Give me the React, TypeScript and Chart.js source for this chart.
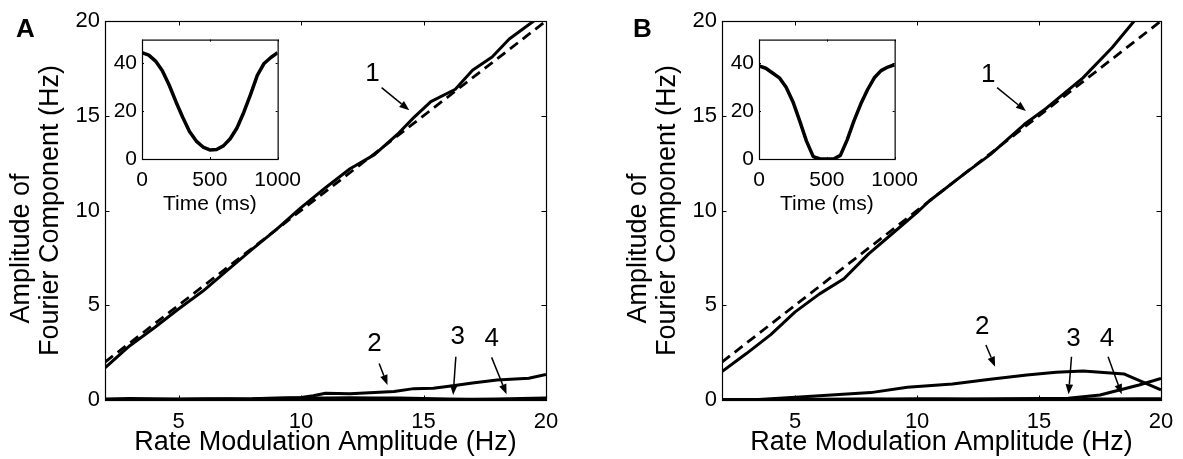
import React, { useEffect, useRef } from 'react';
import { Chart, registerables } from 'chart.js';

Chart.register(...registerables);

const FONT = '"Liberation Sans", Arial, Helvetica, sans-serif';
Chart.defaults.font.family = FONT;
Chart.defaults.color = '#000';

// ---------- Axis ticks / titles ----------
const mainXTicks = [5, 10, 15, 20];
const mainXTickLabels = ['5', '10', '15', '20'];
const mainYTicks = [0, 5, 10, 15, 20];
const mainYTickLabels = ['0', '5', '10', '15', '20'];
const insetXTicks = [0, 500, 1000];
const insetXTickLabels = ['0', '500', '1000'];
const insetYTicks = [0, 20, 40];
const insetYTickLabels = ['0', '20', '40'];
const mainXTitle = 'Rate Modulation Amplitude (Hz)';
const mainYTitle = ['Amplitude of', 'Fourier Component (Hz)'];
const insetXTitle = 'Time (ms)';

// ---------- Panel A ----------
const aX1 = [2, 3, 4, 5, 6, 7, 8, 9, 10, 11, 12, 13, 14, 14.6, 15.3, 16.3, 17, 17.8, 18.5, 19.5, 20];
const aY1 = [1.7, 2.85, 3.8, 4.8, 5.75, 6.85, 7.95, 9.0, 10.15, 11.2, 12.2, 12.95, 14.1, 14.9, 15.75, 16.4, 17.4, 18.1, 19.05, 20.0, 20.4];
const refX = [2, 20];
const refY = [2, 20];
const aX2 = [2, 4, 6, 8, 9, 10, 10.5, 11, 12, 13, 13.8, 14.6, 15.4, 16.2, 17, 18, 19.3, 20];
const aY2 = [0.02, 0.03, 0.04, 0.06, 0.1, 0.13, 0.22, 0.36, 0.33, 0.4, 0.45, 0.6, 0.62, 0.75, 0.9, 1.05, 1.15, 1.35];
const lowX = [2, 3, 4, 5, 6, 7, 8, 9, 10, 11, 12, 13, 14, 15, 16, 17, 18, 19, 20];
const aY3 = [0.05, 0.08, 0.06, 0.05, 0.07, 0.06, 0.05, 0.08, 0.1, 0.1, 0.12, 0.1, 0.1, 0.08, 0.05, 0.04, 0.05, 0.08, 0.1];
const aY4 = [0.02, 0.03, 0.02, 0.03, 0.02, 0.03, 0.02, 0.03, 0.03, 0.04, 0.03, 0.02, 0.03, 0.03, 0.02, 0.02, 0.03, 0.03, 0.03];

// ---------- Panel B ----------
const bX1 = [2, 3, 4, 5, 6, 7, 8, 9, 10, 10.5, 12, 13, 14.4, 15.3, 16.8, 18, 18.9, 19.3];
const bY1 = [1.5, 2.45, 3.45, 4.65, 5.6, 6.4, 7.7, 8.8, 9.9, 10.5, 12.0, 12.95, 14.55, 15.4, 17.0, 18.6, 20.0, 20.6];
const bX2 = [2, 3.5, 5.35, 8.1, 9.6, 11.45, 13, 14.5, 15.7, 16.8, 18.5, 20];
const bY2 = [0.0, 0.03, 0.17, 0.39, 0.67, 0.84, 1.09, 1.32, 1.46, 1.53, 1.37, 0.53];
const bY3 = [0.02, 0.03, 0.03, 0.04, 0.03, 0.04, 0.05, 0.04, 0.05, 0.05, 0.04, 0.04, 0.05, 0.05, 0.04, 0.05, 0.05, 0.06, 0.06];
const bX4 = [2, 4, 6, 8, 10, 12, 14, 16.2, 17.5, 18.3, 19.1, 20];
const bY4 = [0.03, 0.03, 0.04, 0.04, 0.05, 0.05, 0.06, 0.09, 0.26, 0.53, 0.79, 1.14];

// ---------- Insets (rate profile) ----------
const insetT = [0, 50, 100, 150, 200, 250, 300, 350, 400, 450, 500, 550, 600, 650, 700, 750, 800, 850, 900, 950, 1000];
const insetA = [44.5, 43.5, 41, 37, 31, 24, 17.5, 11.5, 7.5, 5, 3.8, 4, 5.5, 8.5, 13, 19.5, 27, 35, 40, 42.5, 44.5];
const insetB = [39, 38, 36, 34, 30, 24, 16, 7.5, 1, 0, 0, 0, 1.5, 8, 16, 23, 29, 34, 37, 38.5, 39.5];

// ---------- Annotations (data units) ----------
const annA = [
  { t: '1', lx: 12.92, ly: 17.2, x0: 13.29, y0: 16.48, x1: 14.42, y1: 15.29 },
  { t: '2', lx: 13.0, ly: 2.95, x0: 13.19, y0: 1.93, x1: 13.53, y1: 0.79 },
  { t: '3', lx: 16.4, ly: 3.34, x0: 16.32, y0: 2.28, x1: 16.21, y1: 0.26 },
  { t: '4', lx: 17.78, ly: 3.25, x0: 17.78, y0: 2.25, x1: 18.39, y1: 0.3 },
];
const annB = [
  { t: '1', lx: 12.92, ly: 17.18, x0: 13.28, y0: 16.48, x1: 14.46, y1: 15.25 },
  { t: '2', lx: 12.67, ly: 3.87, x0: 12.82, y0: 2.9, x1: 13.2, y1: 1.76 },
  { t: '3', lx: 16.41, ly: 3.25, x0: 16.33, y0: 2.28, x1: 16.21, y1: 0.3 },
  { t: '4', lx: 17.78, ly: 3.25, x0: 17.83, y0: 2.28, x1: 18.39, y1: 0.3 },
];

const zip = (xs: number[], ys: number[]) => xs.map((x, i) => ({ x, y: ys[i] }));

function framePlugin(tickLen: number, ann: any[], letter: string | null, whiteBg: boolean, yTitle: string[] | null) {
  return {
    id: 'frame',
    beforeDatasetsDraw(chart: any) {
      if (!whiteBg) return;
      const { ctx, chartArea: a } = chart;
      ctx.save();
      ctx.fillStyle = '#fff';
      ctx.fillRect(a.left, a.top, a.right - a.left, a.bottom - a.top);
      ctx.restore();
    },
    afterDatasetsDraw(chart: any) {
      const { ctx, chartArea: a, scales } = chart;
      ctx.save();
      ctx.strokeStyle = '#000';
      ctx.lineWidth = 1.2;
      ctx.strokeRect(a.left + 0.5, a.top + 0.5, a.right - a.left, a.bottom - a.top);
      ctx.lineWidth = 1;
      ctx.beginPath();
      scales.x.ticks.forEach((t: any) => {
        const p = Math.round(scales.x.getPixelForValue(t.value)) + 0.5;
        ctx.moveTo(p, a.bottom);
        ctx.lineTo(p, a.bottom - tickLen);
        ctx.moveTo(p, a.top);
        ctx.lineTo(p, a.top + tickLen);
      });
      scales.y.ticks.forEach((t: any) => {
        const p = Math.round(scales.y.getPixelForValue(t.value)) + 0.5;
        ctx.moveTo(a.left, p);
        ctx.lineTo(a.left + tickLen, p);
        ctx.moveTo(a.right, p);
        ctx.lineTo(a.right - tickLen, p);
      });
      ctx.stroke();

      ctx.fillStyle = '#000';
      ctx.font = `26px ${FONT}`;
      ctx.textAlign = 'center';
      ctx.textBaseline = 'middle';
      ann.forEach((n) => {
        ctx.fillText(n.t, scales.x.getPixelForValue(n.lx), scales.y.getPixelForValue(n.ly));
        const sx = scales.x.getPixelForValue(n.x0);
        const sy = scales.y.getPixelForValue(n.y0);
        const ex = scales.x.getPixelForValue(n.x1);
        const ey = scales.y.getPixelForValue(n.y1);
        const ang = Math.atan2(ey - sy, ex - sx);
        const hl = 10;
        const hw = 3.8;
        const bx = ex - hl * Math.cos(ang);
        const by = ey - hl * Math.sin(ang);
        ctx.lineWidth = 1.5;
        ctx.beginPath();
        ctx.moveTo(sx, sy);
        ctx.lineTo(bx, by);
        ctx.stroke();
        ctx.beginPath();
        ctx.moveTo(ex, ey);
        ctx.lineTo(bx - hw * Math.sin(ang), by + hw * Math.cos(ang));
        ctx.lineTo(bx + hw * Math.sin(ang), by - hw * Math.cos(ang));
        ctx.closePath();
        ctx.fill();
      });
      if (yTitle) {
        // two rotated title lines; the first one sits lower than the second, as in the source
        const cy = (a.top + a.bottom) / 2;
        const baseOff = [76, 47];
        const shift = [38, 0];
        ctx.font = `27px ${FONT}`;
        ctx.textAlign = 'center';
        ctx.textBaseline = 'alphabetic';
        yTitle.forEach((line, i) => {
          ctx.save();
          ctx.translate(a.left - baseOff[i], cy + shift[i]);
          ctx.rotate(-Math.PI / 2);
          ctx.fillText(line, 0, 0);
          ctx.restore();
        });
      }
      if (letter) {
        ctx.font = `bold 26px ${FONT}`;
        ctx.textAlign = 'left';
        ctx.textBaseline = 'alphabetic';
        ctx.fillText(letter, 16, 37);
      }
      ctx.restore();
    },
  };
}

function lineDs(data: any[], width: number, dash: number[] = []) {
  return {
    data,
    borderColor: '#000',
    borderWidth: width,
    borderDash: dash,
    pointRadius: 0,
    tension: 0,
    fill: false,
    borderJoinStyle: 'round',
  };
}

function axis(min: number, max: number, ticks: number[], labels: string[], size: number, pad: number, fit: (s: any) => void, title: any) {
  return {
    type: 'linear',
    min,
    max,
    afterBuildTicks: (s: any) => {
      s.ticks = ticks.map((v) => ({ value: v }));
    },
    afterFit: fit,
    grid: { display: false, drawTicks: false },
    border: { display: false },
    ticks: {
      padding: pad,
      color: '#000',
      autoSkip: false,
      maxRotation: 0,
      font: { family: FONT, size },
      callback: (_v: any, i: number) => labels[i],
    },
    title,
  };
}

function mainConfig(datasets: any[], ann: any[], letter: string, rightPad: number) {
  return {
    type: 'line',
    data: { datasets },
    options: {
      animation: false,
      responsive: false,
      events: [],
      layout: { padding: { left: 0, top: 21, right: rightPad, bottom: 0 } },
      plugins: { legend: { display: false }, tooltip: { enabled: false } },
      scales: {
        x: axis(2, 20, mainXTicks, mainXTickLabels, 22, 9, (s: any) => { s.height = 59; }, {
          display: true,
          text: mainXTitle,
          color: '#000',
          font: { family: FONT, size: 27, lineHeight: 1.2 },
          padding: { top: 0, bottom: 0 },
        }),
        y: axis(0, 20, mainYTicks, mainYTickLabels, 22, 5, (s: any) => { s.width = 105; }, { display: false }),
      },
    },
    plugins: [framePlugin(4.5, ann, letter, false, mainYTitle)],
  };
}

function insetConfig(values: number[]) {
  return {
    type: 'line',
    data: { datasets: [lineDs(zip(insetT, values), 3.5)] },
    options: {
      animation: false,
      responsive: false,
      events: [],
      layout: { padding: { left: 0, top: 10, right: 25, bottom: 0 } },
      plugins: { legend: { display: false }, tooltip: { enabled: false } },
      scales: {
        x: axis(0, 1000, insetXTicks, insetXTickLabels, 21, 9, (s: any) => { s.height = 73; }, {
          display: true,
          text: insetXTitle,
          color: '#000',
          font: { family: FONT, size: 21, lineHeight: 1.2 },
          padding: { top: 0, bottom: 15 },
        }),
        y: axis(0, 50, insetYTicks, insetYTickLabels, 21, 5, (s: any) => { s.width = 40; }, { display: false }),
      },
    },
    plugins: [framePlugin(2, [], null, true, null)],
  };
}

function ChartBox(props: { left: number; top: number; width: number; height: number; make: () => any }) {
  const ref = useRef<HTMLCanvasElement>(null);
  useEffect(() => {
    const chart = new Chart(ref.current as HTMLCanvasElement, props.make());
    return () => chart.destroy();
  }, []);
  return (
    <div style={{ position: 'absolute', left: props.left, top: props.top, width: props.width, height: props.height }}>
      <canvas ref={ref} width={props.width} height={props.height} style={{ display: 'block', width: props.width, height: props.height }} />
    </div>
  );
}

export default function App() {
  const dsA = [
    lineDs(zip(refX, refY), 2.8, [10, 6]),
    lineDs(zip(aX1, aY1), 3),
    lineDs(zip(aX2, aY2), 3),
    lineDs(zip(lowX, aY3), 3),
    lineDs(zip(lowX, aY4), 3),
  ];
  const dsB = [
    lineDs(zip(refX, refY), 2.8, [10, 6]),
    lineDs(zip(bX1, bY1), 3),
    lineDs(zip(bX2, bY2), 3),
    lineDs(zip(lowX, bY3), 3),
    lineDs(zip(bX4, bY4), 3),
  ];
  return (
    <div style={{ position: 'fixed', left: 0, top: 0, width: 1183, height: 459, background: '#fff', overflow: 'hidden' }}>
      <ChartBox left={0} top={0} width={591} height={459} make={() => mainConfig(dsA, annA, 'A', 45)} />
      <ChartBox left={617} top={0} width={566} height={459} make={() => mainConfig(dsB, annB, 'B', 22)} />
      <ChartBox left={102} top={22} width={208} height={210} make={() => insetConfig(insetA)} />
      <ChartBox left={719} top={22} width={208} height={210} make={() => insetConfig(insetB)} />
    </div>
  );
}
